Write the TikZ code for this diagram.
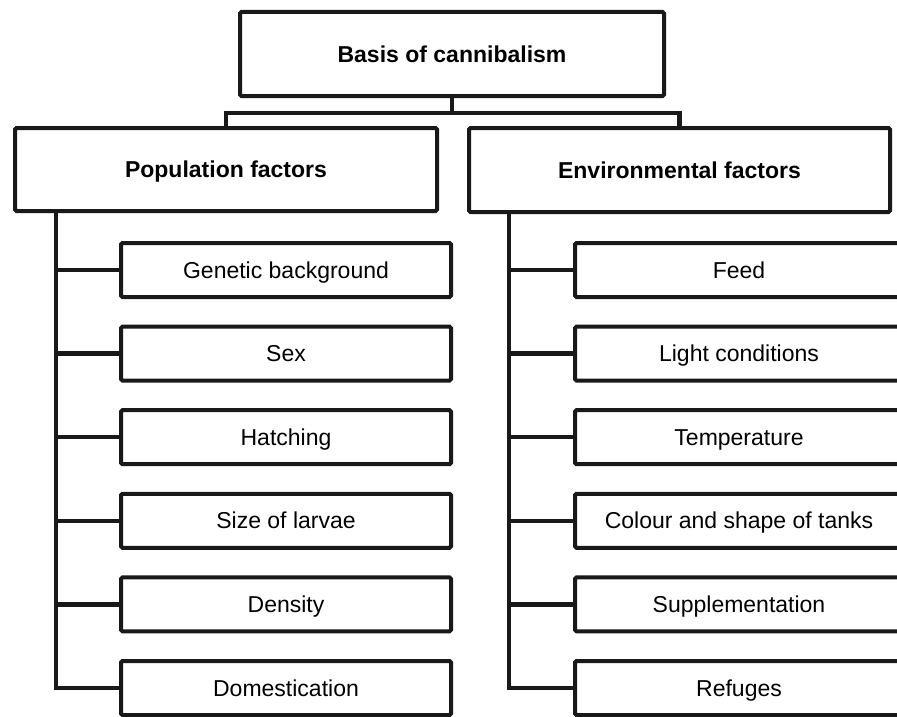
\documentclass[tikz,border=0pt]{standalone}
\usepackage{fontspec}
\setmainfont{Liberation Sans}
\begin{document}
\begin{tikzpicture}[x=1pt,y=-1pt,
  box/.style={draw=black!90,line width=4pt,rounded corners=1.5pt,inner sep=0pt,align=center,text height=16.2pt,text depth=0pt,font=\fontsize{23}{27}\selectfont},
  headbox/.style={box,font=\fontsize{23}{27}\selectfont\bfseries},
  childL/.style={box,minimum width=330pt,minimum height=54pt},
  childR/.style={box,minimum width=328pt,minimum height=54pt},
  link/.style={draw=black!90,line width=4.5pt}]
\useasboundingbox (0,0) rectangle (897,717);
\clip (0,0) rectangle (897,717);
\node[headbox,minimum width=424pt,minimum height=84pt] (top) at (452,54) {Basis of cannibalism};
\node[headbox,minimum width=422pt,minimum height=83pt] (pop) at (226,169.5) {Population factors};
\node[headbox,minimum width=421pt,minimum height=84pt] (env) at (679.5,170) {Environmental factors};
\coordinate (bar) at (452,113);
\draw[link] (top.south) -- (bar);
\draw[link] (bar) -| (pop.north);
\draw[link] (bar) -| (env.north);
% left column
\node[childL] (l1) at (286,270) {Genetic background};
\node[childL] (l2) at (286,353.6) {Sex};
\node[childL] (l3) at (286,437.2) {Hatching};
\node[childL] (l4) at (286,520.8) {Size of larvae};
\node[childL] (l5) at (286,604.4) {Density};
\node[childL] (l6) at (286,688) {Domestication};
% right column
\node[childR] (r1) at (739,270) {Feed};
\node[childR] (r2) at (739,353.6) {Light conditions};
\node[childR] (r3) at (739,437.2) {Temperature};
\node[childR] (r4) at (739,520.8) {Colour and shape of tanks};
\node[childR] (r5) at (739,604.4) {Supplementation};
\node[childR] (r6) at (739,688) {Refuges};
\coordinate (ls) at (56,211);
\coordinate (rs) at (509,212);
\draw[link] (ls) |- (l6.west);
\draw[link] (rs) |- (r6.west);
\foreach \i in {1,...,5}{
  \draw[link] (ls |- l\i.west) -- (l\i.west);
  \draw[link] (rs |- r\i.west) -- (r\i.west);
}
\end{tikzpicture}
\end{document}
